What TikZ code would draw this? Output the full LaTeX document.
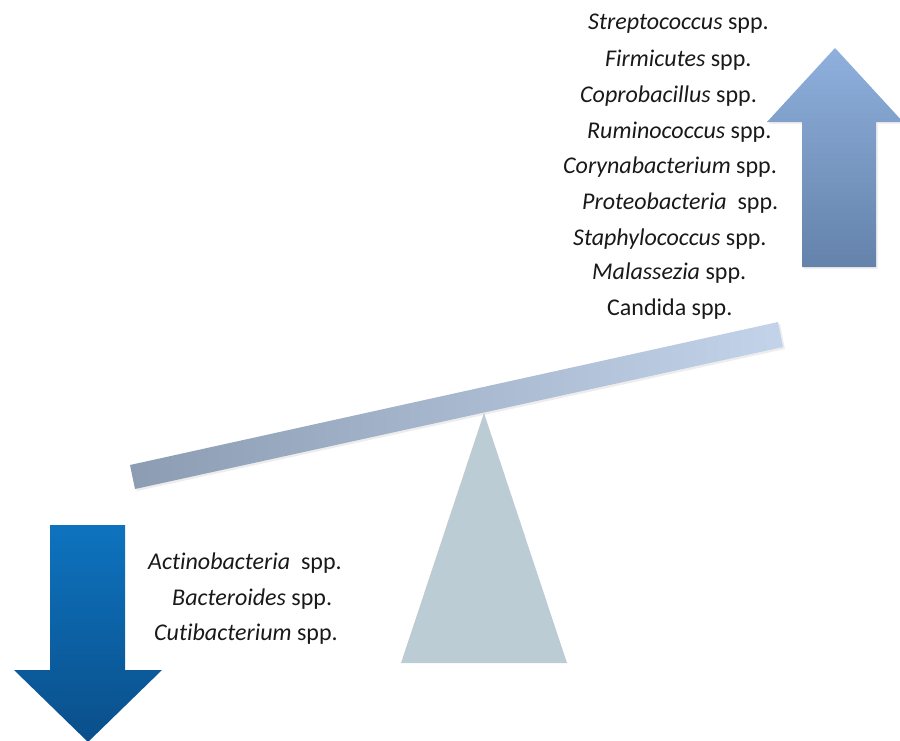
\documentclass[tikz,border=0pt]{standalone}
\usepackage{fontspec}
\setmainfont{Carlito}[RawFeature={-liga;-clig;-dlig}]
\begin{document}
\begin{tikzpicture}[x=1pt,y=-1pt,
  lbl/.style={anchor=west,inner sep=0pt,font=\fontsize{24}{28}\selectfont,text=black!90}]
\useasboundingbox (0,0) rectangle (900,740);
\clip (0,0) rectangle (900,740);
\definecolor{upTop}{HTML}{8FB0DD}
\definecolor{upBot}{HTML}{6482AA}
\definecolor{dnTop}{HTML}{0E73BF}
\definecolor{dnBot}{HTML}{0A4F8A}
\definecolor{beamL}{HTML}{8C9CB2}
\definecolor{beamR}{HTML}{C3D3EA}
\definecolor{fulc}{HTML}{BCCCD4}
% up arrow
\fill[black,opacity=0.06] (804,269) -- (878,269) -- (878,124) -- (905,124) -- (837,50) -- (769,124) -- (804,124) -- cycle;
\shade[top color=upTop,bottom color=upBot] (802,267) -- (876,267) -- (876,122) -- (903,122) -- (835,48) -- (767,122) -- (802,122) -- cycle;
% down arrow
\shade[top color=dnTop,bottom color=dnBot] (50,525) -- (125,525) -- (125,670) -- (162,670) -- (88,742) -- (14,670) -- (50,670) -- cycle;
% fulcrum
\fill[fulc] (484,413) -- (567,663) -- (401,663) -- cycle;
% beam
\fill[black,opacity=0.07] (131,467) -- (780,324) -- (785,349) -- (137,491) -- cycle;
\shade[left color=beamL,right color=beamR] (130,465) -- (778,322) -- (783,347) -- (135,489) -- cycle;
% labels top
\node[lbl] (t1) at (588,24) {\textit{Streptococcus} spp.};
\node[lbl] (t2) at (605,60) {\textit{Firmicutes} spp.};
\node[lbl] (t3) at (580,96) {\textit{Coprobacillus} spp.};
\node[lbl] (t4) at (587,132) {\textit{Ruminococcus} spp.};
\node[lbl] (t5) at (563,167) {\textit{Corynabacterium} spp.};
\node[lbl] (t6) at (582,203) {\textit{Proteobacteria}\ \ spp.};
\node[lbl] (t7) at (573,239) {\textit{Staphylococcus} spp.};
\node[lbl] (t8) at (592,273) {\textit{Malassezia} spp.};
\node[lbl] (t9) at (607,309) {Candida spp.};
% labels bottom
\node[lbl] (b1) at (148,563) {\textit{Actinobacteria}\ \ spp.};
\node[lbl] (b2) at (172,599) {\textit{Bacteroides} spp.};
\node[lbl] (b3) at (154,634) {\textit{Cutibacterium} spp.};
\end{tikzpicture}
\end{document}
